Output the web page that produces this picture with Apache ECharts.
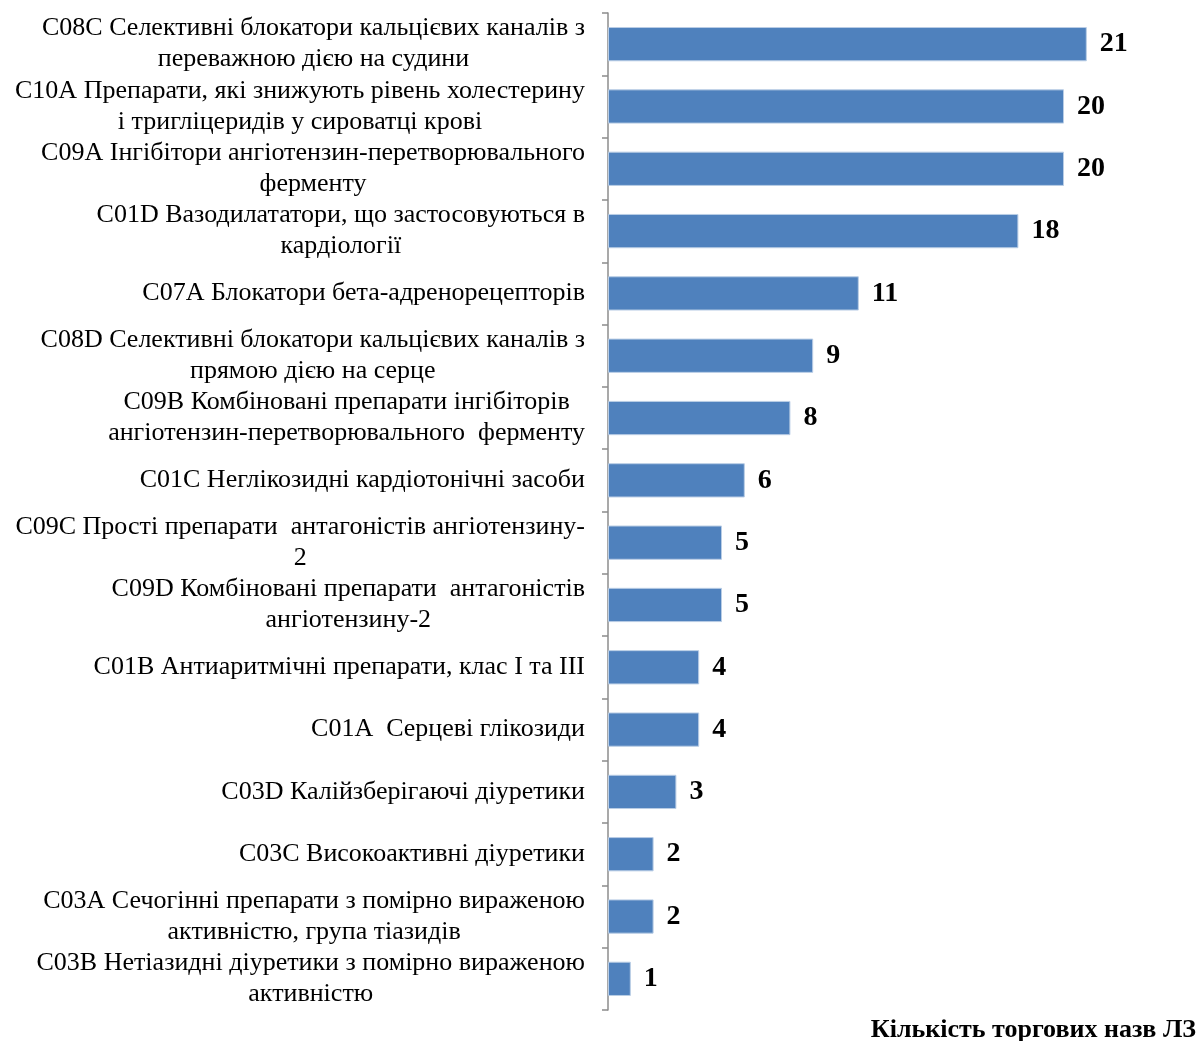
<!DOCTYPE html>
<html>
<head>
<meta charset="utf-8">
<script src="https://cdn.jsdelivr.net/npm/echarts@6/dist/echarts.min.js"></script>
<style>
  html, body { margin: 0; padding: 0; background: #fff; }
  #chart { width: 1199px; height: 1041px; }
</style>
</head>
<body>
<div id="chart"></div>
<script>
// ATC groups (top to bottom) and number of trade names per group
const categories = [
  'C08C Селективні блокатори кальцієвих каналів з\nпереважною дією на судини',
  'C10A Препарати, які знижують рівень холестерину\nі тригліцеридів у сироватці крові',
  'C09A Інгібітори ангіотензин-перетворювального\nферменту',
  'C01D Вазодилататори, що застосовуються в\nкардіології',
  'C07A Блокатори бета-адренорецепторів',
  'C08D Селективні блокатори кальцієвих каналів з\nпрямою дією на серце',
  'C09B Комбіновані препарати інгібіторів\nангіотензин-перетворювального  ферменту',
  'C01C Неглікозидні кардіотонічні засоби',
  'C09C Прості препарати  антагоністів ангіотензину-\n2',
  'C09D Комбіновані препарати  антагоністів\nангіотензину-2',
  'C01B Антиаритмічні препарати, клас I та III',
  'C01A  Серцеві глікозиди',
  'C03D Калійзберігаючі діуретики',
  'C03C Високоактивні діуретики',
  'C03A Сечогінні препарати з помірно вираженою\nактивністю, група тіазидів',
  'C03B Нетіазидні діуретики з помірно вираженою\nактивністю'
];
const counts = [21, 20, 20, 18, 11, 9, 8, 6, 5, 5, 4, 4, 3, 2, 2, 1];
const axisTitle = 'Кількість торгових назв ЛЗ';

const serif = "'Liberation Serif', 'Times New Roman', serif";

const chart = echarts.init(document.getElementById('chart'), null, { renderer: 'canvas' });
chart.setOption({
  backgroundColor: '#ffffff',
  animation: false,
  title: {
    text: axisTitle,
    right: 3,
    top: 1017,
    padding: 0,
    textStyle: { fontFamily: serif, fontSize: 26, fontWeight: 'bold', color: '#000' }
  },
  grid: { left: 608, top: 13, width: 570, height: 997, containLabel: false },
  xAxis: {
    type: 'value',
    min: 0,
    max: 25,
    show: false
  },
  yAxis: {
    type: 'category',
    data: categories,
    inverse: true,
    axisLine: { show: true, lineStyle: { color: '#8c8c8c', width: 1.5 } },
    axisTick: { show: true, length: 6, lineStyle: { color: '#8c8c8c', width: 1.5 } },
    splitLine: { show: false },
    axisLabel: {
      margin: 23,
      align: 'right',
      lineHeight: 31,
      fontFamily: serif,
      fontSize: 26,
      color: '#000',
      formatter: function (v) {
        return v.split('\n').map(function (line) { return '{c|' + line + '}'; }).join('\n');
      },
      rich: {
        c: { align: 'center', fontFamily: serif, fontSize: 26, lineHeight: 31, color: '#000' }
      }
    }
  },
  series: [{
    type: 'bar',
    data: counts,
    barCategoryGap: '45%',
    itemStyle: { color: '#4F81BD', borderColor: '#B9CDE5', borderWidth: 1 },
    label: {
      show: true,
      position: 'right',
      distance: 13,
      fontFamily: serif,
      fontSize: 28,
      fontWeight: 'bold',
      color: '#000'
    }
  }]
});
</script>
</body>
</html>
